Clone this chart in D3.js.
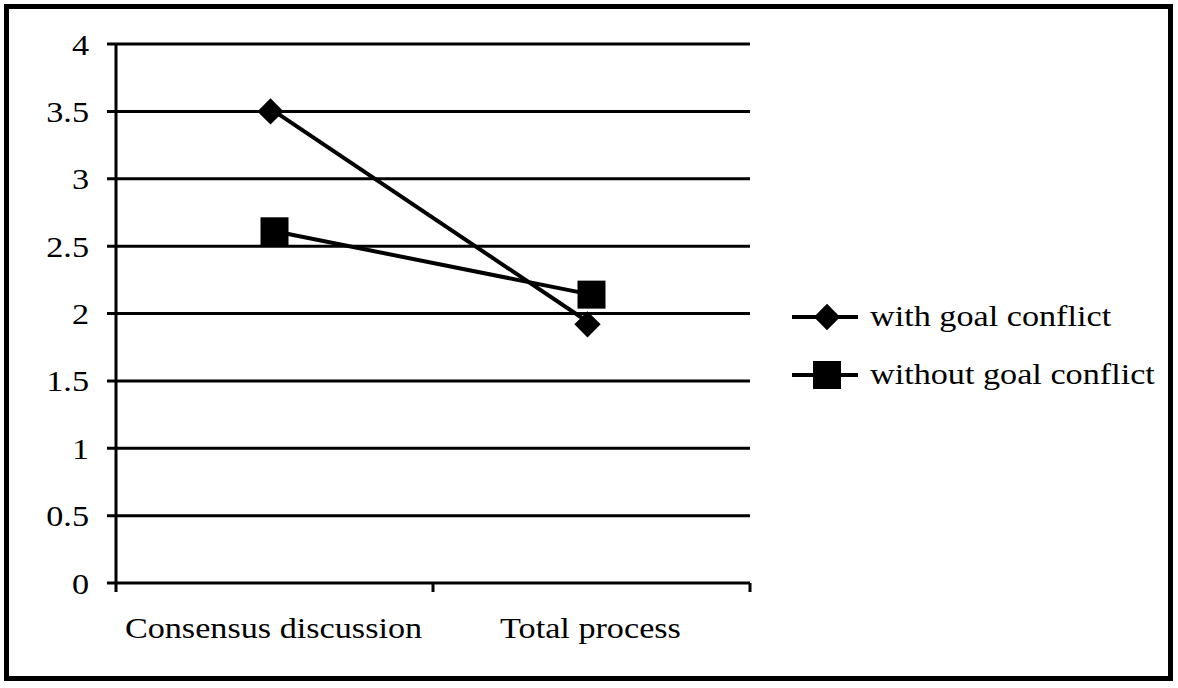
<!DOCTYPE html>
<html>
<head>
<meta charset="utf-8">
<script src="https://cdn.jsdelivr.net/npm/d3@7"></script>
<style>
  body { margin: 0; background: #fff; }
</style>
</head>
<body>
<div id="chart"></div>
<script>
const categories = ["Consensus discussion", "Total process"];
const seriesNames = ["with goal conflict", "without goal conflict"];
const withConflict = [3.5, 1.92];
const withoutConflict = [2.61, 2.14];
const yTicks = [0, 0.5, 1, 1.5, 2, 2.5, 3, 3.5, 4];

const width = 1178, height = 688;
const margin = { top: 44, left: 116, right: 428, bottom: 105 };
const fontFamily = "'Liberation Serif', 'Times New Roman', Times, serif";
const fontSize = 30;
const stretch = 1.14; // the original text is a bit wider than plain Times

const svg = d3.select("#chart").append("svg")
  .attr("width", width)
  .attr("height", height)
  .attr("font-family", fontFamily);

// outer frame
svg.append("rect")
  .attr("x", 6.5).attr("y", 6.5)
  .attr("width", 1164).attr("height", 672)
  .attr("fill", "none").attr("stroke", "#000").attr("stroke-width", 5);

const x = d3.scaleBand()
  .domain(categories)
  .range([margin.left, width - margin.right]);

const y = d3.scaleLinear()
  .domain([0, 4])
  .range([height - margin.bottom, margin.top]);

// gridlines + y ticks
svg.append("g")
  .selectAll("line")
  .data(yTicks)
  .join("line")
  .attr("x1", margin.left - 9)
  .attr("x2", width - margin.right)
  .attr("y1", d => y(d))
  .attr("y2", d => y(d))
  .attr("stroke", "#000")
  .attr("stroke-width", 3);

svg.append("g")
  .selectAll("text")
  .data(yTicks)
  .join("text")
  .attr("transform", d => `translate(89,${y(d)}) scale(${stretch},1)`)
  .attr("dy", "0.35em")
  .attr("text-anchor", "end")
  .attr("font-size", fontSize)
  .text(d => d);

// y axis line
svg.append("line")
  .attr("x1", margin.left).attr("x2", margin.left)
  .attr("y1", y(4)).attr("y2", y(0) + 9)
  .attr("stroke", "#000").attr("stroke-width", 3);

// x ticks at band boundaries
const xEdges = categories.map(c => x(c)).concat([x.range()[1]]);
svg.append("g")
  .selectAll("line")
  .data(xEdges.slice(1))
  .join("line")
  .attr("x1", d => d).attr("x2", d => d)
  .attr("y1", y(0)).attr("y2", y(0) + 9)
  .attr("stroke", "#000").attr("stroke-width", 3);

svg.append("g")
  .selectAll("text")
  .data(categories)
  .join("text")
  .attr("transform", d => `translate(${x(d) + x.bandwidth() / 2 - 1},638) scale(${stretch},1)`)
  .attr("text-anchor", "middle")
  .attr("font-size", fontSize)
  .text(d => d);

const line = d3.line()
  .x((d, i) => x(categories[i]) + x.bandwidth() / 2)
  .y(d => y(d));

const diamond = d3.symbol().type(d3.symbolDiamond2).size(440);

// series 1: diamonds
svg.append("path")
  .attr("d", line(withConflict))
  .attr("fill", "none").attr("stroke", "#000").attr("stroke-width", 4);
svg.append("g")
  .selectAll("path")
  .data(withConflict)
  .join("path")
  .attr("d", diamond)
  .attr("transform", (d, i) => `translate(${x(categories[i]) + x.bandwidth() / 2 - 4},${y(d)})`)
  .attr("fill", "#000");

// series 2: squares
svg.append("path")
  .attr("d", line(withoutConflict))
  .attr("fill", "none").attr("stroke", "#000").attr("stroke-width", 4);
svg.append("g")
  .selectAll("rect")
  .data(withoutConflict)
  .join("rect")
  .attr("x", (d, i) => x(categories[i]) + x.bandwidth() / 2 - 14)
  .attr("y", d => y(d) - 14)
  .attr("width", 28).attr("height", 28)
  .attr("fill", "#000");

// legend
const legend = svg.append("g").attr("transform", "translate(792,317)");
seriesNames.forEach((name, i) => {
  const g = legend.append("g").attr("transform", `translate(0,${i * 58})`);
  g.append("line")
    .attr("x1", 0).attr("x2", 66).attr("y1", 0).attr("y2", 0)
    .attr("stroke", "#000").attr("stroke-width", 4);
  if (i === 0) {
    g.append("path").attr("d", diamond).attr("transform", "translate(35,0)").attr("fill", "#000");
  } else {
    g.append("rect").attr("x", 21).attr("y", -14).attr("width", 28).attr("height", 28).attr("fill", "#000");
  }
  g.append("text")
    .attr("transform", `translate(78,0) scale(${stretch},1)`)
    .attr("dy", "0.3em")
    .attr("font-size", fontSize)
    .text(name);
});
</script>
</body>
</html>
